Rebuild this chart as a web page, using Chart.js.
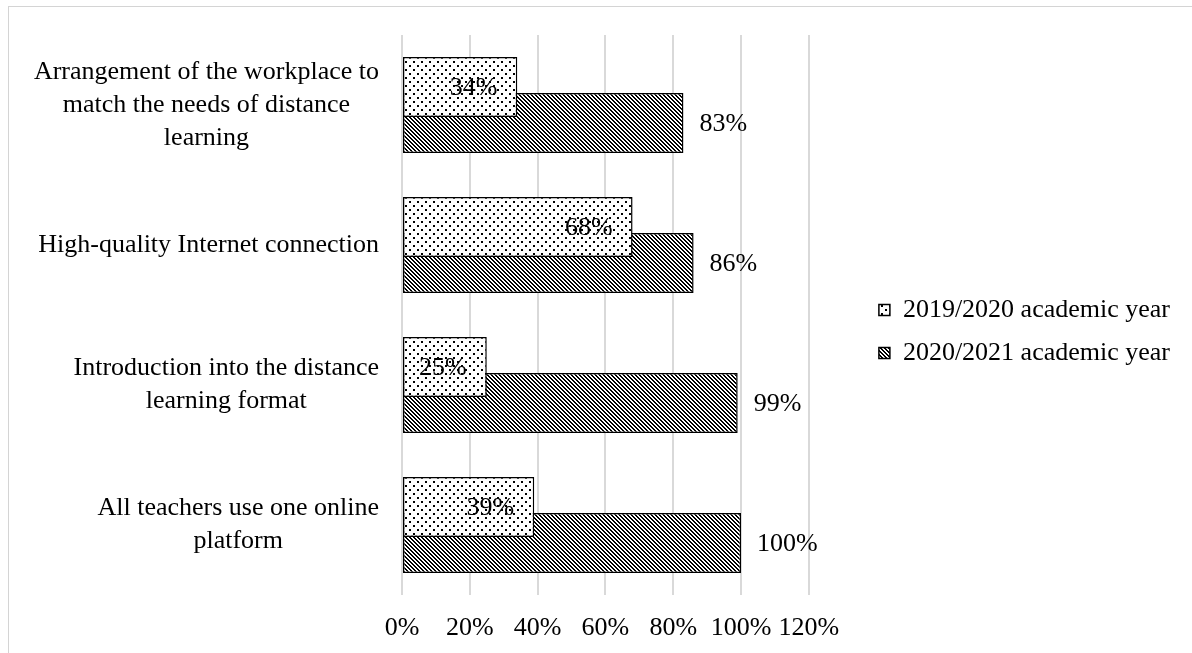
<!DOCTYPE html>
<html>
<head>
<meta charset="utf-8">
<script src="https://cdn.jsdelivr.net/npm/chart.js@4.4.1/dist/chart.umd.min.js"></script>
<style>
  html, body { margin: 0; padding: 0; background: #fff; overflow: hidden; }
  #frame { position: absolute; left: 8px; top: 6px; width: 1300px; height: 800px; border: 1px solid #d4d4d4; }
  #wrap { position: absolute; left: 0; top: 0; width: 1192px; height: 653px; }
</style>
</head>
<body>
<div id="frame"></div>
<div id="wrap"><canvas id="chart" width="1192" height="653"></canvas></div>
<script>
// categories, top to bottom (wrapped the way the original wraps them)
const categories = [
  ['Arrangement of the workplace to', 'match the needs of distance', 'learning'],
  ['High-quality Internet connection'],
  ['Introduction into the distance', 'learning format'],
  ['All teachers use one online', 'platform'],
];
const seriesNames = ['2019/2020 academic year', '2020/2021 academic year'];
const values2019 = [34, 68, 25, 39];
const values2020 = [83, 86, 99, 100];
const xTicks = [0, 20, 40, 60, 80, 100, 120];

const FONT = { family: '"Liberation Serif", "Times New Roman", serif', size: 26 };
const FONT_STR = `${FONT.size}px ${FONT.family}`;
const TEXT = '#000';

// excel-like fill patterns
function makePattern(w, h, draw) {
  const c = document.createElement('canvas');
  c.width = w; c.height = h;
  const g = c.getContext('2d');
  g.fillStyle = '#fff';
  g.fillRect(0, 0, w, h);
  g.fillStyle = '#000';
  draw(g);
  return document.getElementById('chart').getContext('2d').createPattern(c, 'repeat');
}
const dotted = makePattern(8, 8, g => {
  g.fillRect(1, 1, 2, 2);
  g.fillRect(5, 5, 2, 2);
});
const hatched = makePattern(4, 4, g => {
  for (let i = 0; i < 4; i++) {
    g.fillRect(i, i, 1, 1);
    g.fillRect((i + 1) % 4, i, 1, 1);
  }
});

// category labels: lines centred on each other, block pushed against the axis
const yLabels = {
  id: 'yLabels',
  afterDraw(chart) {
    const { ctx } = chart;
    const y = chart.scales.y;
    ctx.save();
    ctx.font = FONT_STR;
    ctx.fillStyle = TEXT;
    ctx.textAlign = 'center';
    ctx.textBaseline = 'middle';
    categories.forEach((lines, i) => {
      const cy = y.getPixelForValue(i);
      const w = Math.max(...lines.map(l => ctx.measureText(l).width));
      const cx = y.right - 23 - w / 2;
      lines.forEach((l, j) => {
        ctx.fillText(l, cx, cy + (j - (lines.length - 1) / 2) * 33);
      });
    });
    ctx.restore();
  }
};

// value labels: inside end for the first series, outside end for the second
const valueLabels = {
  id: 'valueLabels',
  afterDatasetsDraw(chart) {
    const { ctx } = chart;
    ctx.save();
    ctx.font = FONT_STR;
    ctx.fillStyle = TEXT;
    ctx.textBaseline = 'middle';
    chart.data.datasets.forEach((ds, di) => {
      chart.getDatasetMeta(di).data.forEach((bar, i) => {
        const txt = ds.data[i] + '%';
        if (di === 0) {
          ctx.textAlign = 'right';
          ctx.fillText(txt, bar.x - 20, bar.y + 1);
        } else {
          ctx.textAlign = 'left';
          ctx.fillText(txt, bar.x + 16, bar.y + 1);
        }
      });
    });
    ctx.restore();
  }
};

const barStyle = {
  borderColor: '#000',
  borderWidth: 1.5,
  borderSkipped: false,
  categoryPercentage: 0.514,
  barPercentage: 1.667,
};

new Chart(document.getElementById('chart'), {
  type: 'bar',
  data: {
    labels: categories,
    datasets: [
      { label: seriesNames[0], data: values2019, backgroundColor: dotted, ...barStyle },
      { label: seriesNames[1], data: values2020, backgroundColor: hatched, ...barStyle },
    ]
  },
  options: {
    indexAxis: 'y',
    responsive: false,
    animation: false,
    events: [],
    layout: { padding: { top: 10, left: 0, right: 12, bottom: 0 } },
    plugins: {
      tooltip: { enabled: false },
      legend: {
        position: 'right',
        maxWidth: 400,
        labels: {
          color: TEXT,
          font: FONT,
          boxWidth: 11,
          boxHeight: 11,
          padding: 17,
        }
      }
    },
    scales: {
      x: {
        min: xTicks[0],
        max: xTicks[xTicks.length - 1],
        border: { display: false },
        grid: { color: '#d9d9d9', lineWidth: 2, drawTicks: false },
        ticks: {
          stepSize: xTicks[1] - xTicks[0],
          color: TEXT,
          font: FONT,
          padding: 18,
          callback: v => v + '%'
        },
        afterFit: s => { s.height = 58; }
      },
      y: {
        border: { display: false },
        grid: { display: false },
        ticks: { display: false },
        afterFit: s => { s.width = 402; }
      },
      // spacers: keep the plot area where the original has it
      xTop: {
        type: 'linear', position: 'top',
        border: { display: false }, grid: { display: false }, ticks: { display: false },
        afterFit: s => { s.height = 25; }
      },
      yRight: {
        type: 'linear', position: 'right',
        border: { display: false }, grid: { display: false }, ticks: { display: false },
        afterFit: s => { s.width = 53; }
      }
    }
  },
  plugins: [yLabels, valueLabels]
});
</script>
</body>
</html>
